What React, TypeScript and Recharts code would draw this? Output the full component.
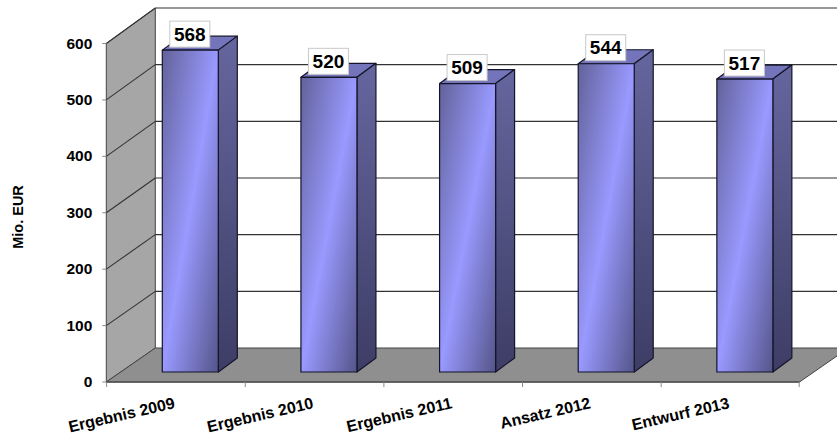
import { Bar, BarChart, LabelList, ReferenceArea, XAxis, YAxis } from "recharts"

const categories = ["Ergebnis 2009", "Ergebnis 2010", "Ergebnis 2011", "Ansatz 2012", "Entwurf 2013"]
const amounts = [568, 520, 509, 544, 517]
const yTicks = [0, 100, 200, 300, 400, 500, 600]

const rows = categories.map((name, i) => ({ name, value: amounts[i] }))

// the 3d look: wall sits this far behind the bars, axes this far in front
const BACK_X = 34
const BACK_Y = 24
const FRONT_X = 15
const FRONT_Y = 10
const FRONT_SQUEEZE = 1.5
const BAR_DX = 19
const BAR_DY = 14
const FONT = "'Liberation Sans', Arial, sans-serif"

function Walls({ x, y, width, height }: any) {
  const bottom = y + height
  const left = x - FRONT_X
  const right = x + width - FRONT_X
  const floorY = bottom + FRONT_Y
  const backX = x + BACK_X
  const backBottom = bottom - BACK_Y
  const backTop = y - BACK_Y
  const frontTop = y + FRONT_Y + FRONT_SQUEEZE
  const endX = right + BACK_X + FRONT_X
  return (
    <g>
      <rect x={backX} y={backTop} width={endX - backX} height={height} fill="#fff" />
      <polygon
        points={`${left},${floorY} ${backX},${backBottom} ${backX},${backTop} ${left},${frontTop}`}
        fill="#a6a6a6"
        stroke="#444"
        strokeWidth={1}
      />
      {yTicks.slice(1).map((v) => {
        const at = v / yTicks[yTicks.length - 1]
        const backY = backBottom - at * height
        const frontY = floorY - at * (height - FRONT_SQUEEZE)
        return (
          <g key={v} stroke="#333" strokeWidth={1.1}>
            <line x1={backX} y1={backY} x2={endX} y2={backY} />
            <line x1={left} y1={frontY} x2={backX} y2={backY} />
          </g>
        )
      })}
      <polygon
        points={`${left},${floorY} ${backX},${backBottom} ${endX},${backBottom} ${right},${floorY}`}
        fill="#8f8f8f"
        stroke="#444"
        strokeWidth={1}
      />
      <line x1={left} y1={floorY} x2={right} y2={floorY} stroke="#555" strokeWidth={1.5} />
    </g>
  )
}

function Box({ x, y, width, height }: any) {
  const r = x + width
  const b = y + height
  return (
    <g stroke="#15152b" strokeWidth={1.2} strokeLinejoin="round">
      <polygon points={`${x},${y} ${x + BAR_DX},${y - BAR_DY} ${r + BAR_DX},${y - BAR_DY} ${r},${y}`} fill="#7474bb" />
      <polygon points={`${r},${y} ${r + BAR_DX},${y - BAR_DY} ${r + BAR_DX},${b - BAR_DY} ${r},${b}`} fill="url(#sideFill)" />
      <rect x={x} y={y} width={width} height={height} fill="url(#frontFill)" />
    </g>
  )
}

function ValueTag({ x, y, width, value }: any) {
  const cx = x + width / 2 - 0.5
  return (
    <g>
      <rect x={cx - 20} y={y - 29} width={40} height={26} fill="#fff" stroke="#c8c8c8" strokeWidth={1} />
      <text x={cx} y={y - 9.5} textAnchor="middle" fontFamily={FONT} fontWeight={700} fontSize={19} fill="#000">
        {value}
      </text>
    </g>
  )
}

function TickMark({ x, y }: any) {
  return <line x1={x} y1={y + 2} x2={x} y2={y + 7} stroke="#888" strokeWidth={1} />
}

function CategoryTick({ x, y, payload, index }: any) {
  return (
    <g>
      <text
        x={0}
        y={0}
        transform={`translate(${x - 15},${y + 28}) rotate(-13)`}
        textAnchor="end"
        fontFamily={FONT}
        fontWeight={700}
        fontSize={16}
        fill="#000"
      >
        {payload.value}
      </text>
      <TickMark x={x - 84} y={y} />
      {index === categories.length - 1 ? <TickMark x={x + 54} y={y} /> : null}
    </g>
  )
}

function ValueTick({ x, y, payload }: any) {
  const shift = FRONT_Y + (payload.value / 600) * FRONT_SQUEEZE
  return (
    <g>
      <line x1={x - 11} y1={y + shift} x2={x - 7} y2={y + shift} stroke="#888" strokeWidth={1} />
      <text x={x - 21} y={y + shift + 5} textAnchor="end" fontFamily={FONT} fontWeight={700} fontSize={15.5} fill="#000">
        {payload.value}
      </text>
    </g>
  )
}

function AxisTitle() {
  return (
    <text
      transform="translate(23,217) rotate(-90)"
      textAnchor="middle"
      fontFamily={FONT}
      fontWeight={700}
      fontSize={14.5}
      fill="#000"
    >
      Mio. EUR
    </text>
  )
}

export default function App() {
  return (
    <div style={{ position: "absolute", left: 0, top: 0, width: 837, height: 441, overflow: "hidden", background: "#fff" }}>
      <BarChart
        width={837}
        height={441}
        data={rows}
        barSize={56}
        margin={{ top: 32, right: 22.5, bottom: 0, left: 0 }}
      >
        <defs>
          <linearGradient id="frontFill" x1="0" y1="0" x2="1" y2="1">
            <stop offset="0%" stopColor="#62629a" />
            <stop offset="50%" stopColor="#9999ff" />
            <stop offset="100%" stopColor="#55558a" />
          </linearGradient>
          <linearGradient id="sideFill" x1="0" y1="0" x2="0" y2="1">
            <stop offset="0%" stopColor="#66669f" />
            <stop offset="100%" stopColor="#3d3d66" />
          </linearGradient>
        </defs>
        <ReferenceArea y1={0} y2={600} ifOverflow="visible" shape={<Walls />} />
        <XAxis
          dataKey="name"
          axisLine={false}
          tickLine={false}
          interval={0}
          height={69}
          tick={<CategoryTick />}
        />
        <YAxis
          domain={[0, 600]}
          ticks={yTicks}
          axisLine={false}
          tickLine={false}
          width={121.3}
          tick={<ValueTick />}
          label={<AxisTitle />}
        />
        <Bar dataKey="value" shape={<Box />} isAnimationActive={false}>
          <LabelList dataKey="value" content={<ValueTag />} />
        </Bar>
      </BarChart>
    </div>
  )
}
